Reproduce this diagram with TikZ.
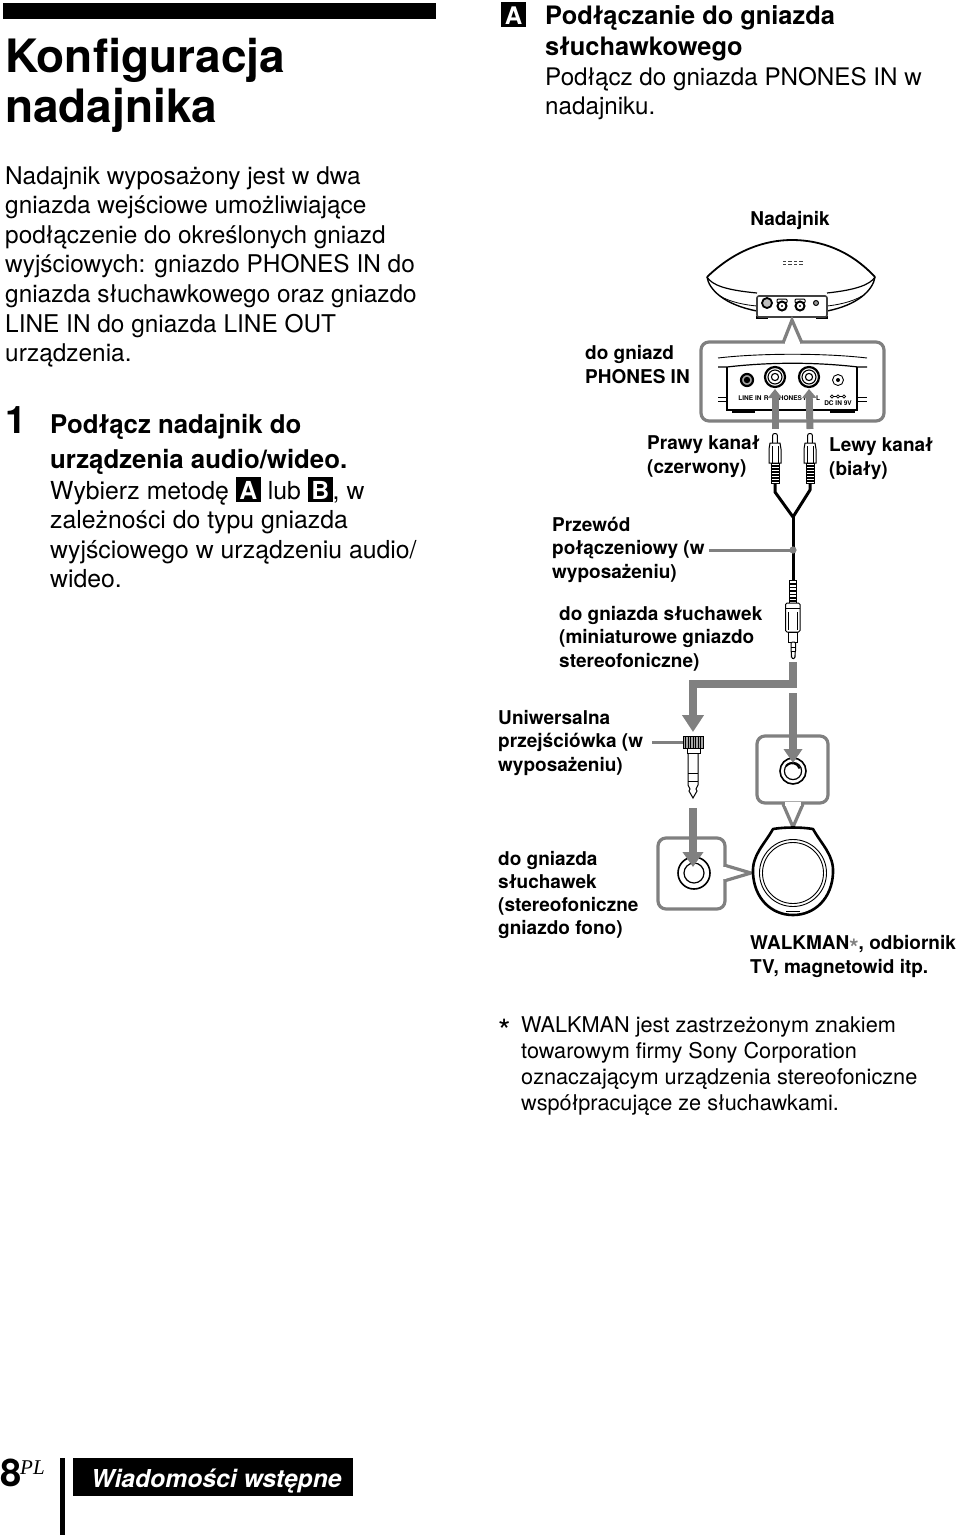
\documentclass[tikz,border=0pt]{standalone}
\usepackage{fontspec}
\setmainfont{TeX Gyre Heros}
\newfontfamily\plfont{Liberation Serif}
\usetikzlibrary{arrows.meta}
\definecolor{cg}{gray}{0.5}
\newcommand{\badge}[1]{{\setlength{\fboxsep}{0pt}\colorbox{black}{\makebox[25pt]{\rule[-3pt]{0pt}{25pt}\textcolor{white}{\bfseries #1}}}}}
\newcommand{\bigstar}{\smash{\raisebox{-6.5pt}{\fontsize{24}{24}\selectfont *}}}
\tikzset{
 x=1pt,y=-1pt,
 body/.style={anchor=base west,inner sep=0pt,align=left,font=\fontsize{24.4}{29.6}\selectfont},
 bodyb/.style={anchor=base west,inner sep=0pt,align=left,font=\fontsize{25.8}{35}\selectfont\bfseries},
 lab/.style={anchor=base west,inner sep=0pt,align=left,font=\fontsize{19}{23.1}\selectfont\bfseries},
 note/.style={anchor=base west,inner sep=0pt,align=left,font=\fontsize{21.7}{26}\selectfont},
 tiny/.style={inner sep=0pt,font=\fontsize{6.5}{7}\selectfont\bfseries},
 callout/.style={draw=cg,line width=3.2pt,rounded corners=8pt,fill=white,line join=round},
 pointer/.style={draw=cg,line width=3.2pt,line join=miter},
 grayarrow/.style={draw=cg,line width=8pt,-{Triangle[length=17pt,width=21pt]}},
 smallarrow/.style={draw=cg,line width=7pt,-{Triangle[length=9pt,width=14pt]}},
 leader/.style={draw=cg,line width=3pt},
 part/.style={draw=black,line width=1pt,fill=white},
 cable/.style={draw=black,line width=3pt,line join=round},
 thin/.style={draw=black,line width=.9pt},
}
\begin{document}
\begin{tikzpicture}
\useasboundingbox (0,0) rectangle (960,1535);
\fill[black] (3,3) rectangle (436,19);
% text left
\node[anchor=base west,inner sep=0pt,align=left,font=\fontsize{46}{50}\selectfont\bfseries] (title) at (5,122) {Konfiguracja\\nadajnika};
\node[body] (intro) at (5,361.6) {Nadajnik wyposażony jest w dwa\\gniazda wejściowe umożliwiające\\podłączenie do określonych gniazd\\wyjściowych: gniazdo PHONES IN do\\gniazda słuchawkowego oraz gniazdo\\LINE IN do gniazda LINE OUT\\urządzenia.};
\node[anchor=base west,inner sep=0pt,font=\fontsize{38}{40}\selectfont\bfseries] (one) at (5,433) {1};
\node[bodyb] (step) at (50,468) {Podłącz nadajnik do\\urządzenia audio/wideo.};
\node[body,font=\fontsize{24.8}{29.6}\selectfont] (stept) at (50,587.8) {Wybierz metodę \badge{A} lub \badge{B}, w\\zależności do typu gniazda\\wyjściowego w urządzeniu audio/\\wideo.};
% section A
\node[anchor=base west,inner sep=0pt,font=\fontsize{24.2}{30}\selectfont] (badgeA) at (501,24) {\badge{A}};
\node[anchor=base west,inner sep=0pt,align=left,font=\fontsize{25.4}{31}\selectfont\bfseries] (secA) at (545,55) {Podłączanie do gniazda\\słuchawkowego};
\node[body,font=\fontsize{24.2}{29.6}\selectfont] (secAt) at (545,114.6) {Podłącz do gniazda PNONES IN w\\nadajniku.};
% labels
\node[lab,anchor=base] (nad) at (790,225) {Nadajnik};
\node[lab] (phones) at (585,383) {do gniazd\\PHONES IN};
\node[lab] (prawy) at (647,473) {Prawy kanał\\(czerwony)};
\node[lab] (lewy) at (829,475) {Lewy kanał\\(biały)};
\node[lab] (przewod) at (552,578) {Przewód\\połączeniowy (w\\wyposażeniu)};
\node[lab] (dosl) at (559,667) {do gniazda słuchawek\\(miniaturowe gniazdo\\stereofoniczne)};
\node[lab] (uni) at (498,771) {Uniwersalna\\przejściówka (w\\wyposażeniu)};
\node[lab] (dofono) at (498,934.3) {do gniazda\\słuchawek\\(stereofoniczne\\gniazdo fono)};
\node[lab] (walk) at (750,973) {WALKMAN{\color{cg}\bigstar}, odbiornik\\TV, magnetowid itp.};
\node[note,anchor=base west,font=\fontsize{32}{32}\selectfont] (star) at (498,1042) {*};
\node[note] (foot) at (521,1110) {WALKMAN jest zastrzeżonym znakiem\\towarowym firmy Sony Corporation\\oznaczającym urządzenia stereofoniczne\\współpracujące ze słuchawkami.};
% footer
\node[anchor=base west,inner sep=0pt,font=\fontsize{38}{40}\selectfont\bfseries] (page) at (0,1486) {8};
\node[anchor=base west,inner sep=0pt,font=\fontsize{21}{22}\selectfont\plfont\itshape] (pl) at (20,1474) {PL};
\fill[black] (60,1458) rectangle (65,1535);
\fill[black] (73,1458) rectangle (353,1496);
\node[anchor=base west,text=white,inner sep=0pt,font=\fontsize{24.7}{28}\selectfont\bfseries\itshape] (sec) at (91,1487) {Wiadomości wstępne};
% transmitter
\coordinate (txtop) at (792,240);
\draw[line width=1.8pt,line join=round] (707,277) .. controls (735,250) and (765,240) .. (txtop) .. controls (820,240) and (850,250) .. (875,277);
\draw[line width=1.2pt] (707,277) .. controls (712,285) and (725,290) .. (757,293);
\draw[line width=1.2pt] (875,277) .. controls (870,285) and (855,290) .. (827,293);
\draw[line width=1.4pt] (707,277) .. controls (709,290) and (725,305) .. (757,311);
\draw[line width=1.4pt] (875,277) .. controls (873,290) and (858,305) .. (827,311);
\draw[line width=.8pt] (720,296) .. controls (730,302) and (745,305) .. (757,306);
\draw[line width=.8pt] (862,296) .. controls (852,302) and (837,305) .. (827,306);
\fill (756,316) rectangle (768,319);
\fill (816,316) rectangle (828,319);
\foreach \a in {782.5,788,793.5,799}{\foreach \b in {260.5,263.5}{\fill[black!75] (\a,\b) rectangle +(3.5,1.8);}}
\draw[line width=1.6pt,draw=black!75,fill=white,rounded corners=2pt] (757,296) rectangle (827,317);
\node[circle,draw=black,line width=1.8pt,fill=black!25,minimum size=10pt,inner sep=0pt] (p1) at (767,303) {};
\foreach \n/\x in {p2/782,p3/800}{
 \draw[draw=black,line width=1pt,fill=white,rounded corners=1pt] (\x-5,299) rectangle (\x+5,303);
 \node[circle,draw=black,line width=2pt,fill=white,minimum size=9pt,inner sep=0pt] (\n) at (\x,306) {};
 \fill[black] (\x,306) circle (1.2pt);
}
\node[circle,draw=black,line width=1pt,fill=black!40,minimum size=5pt,inner sep=0pt] (p4) at (816,303) {};
% callout 1
\draw[callout] (701,342) rectangle (884,421);
\coordinate (pa1) at (783,343);
\coordinate (pa2) at (792,320);
\coordinate (pa3) at (802,343);
\fill[white] (pa1)--(pa2)--(pa3)--cycle;
\draw[pointer] (pa1)--(pa2)--(pa3);
\fill[white] (785,341.5) rectangle (800,344.5);
% housing in callout
\draw[line width=.9pt] (718,358) .. controls (760,353) and (825,353) .. (867,358);
\draw[line width=1.2pt] (718,367) -- (727,367) .. controls (770,362) and (815,362) .. (858,367) -- (867,367);
\draw[line width=1.2pt] (727,367) -- (727,410) -- (857,410) -- (857,367);
\draw[line width=.9pt] (718,397) -- (727,397) (718,401) -- (727,401) (857,397) -- (867,397) (857,401) -- (867,401);
\fill (732,410) rectangle (755,412.5);
\fill (830,410) rectangle (855,412.5);
\node[circle,draw=black,line width=2.2pt,fill=black!35,minimum size=12pt,inner sep=0pt] (jline) at (747,380) {};
\fill[black] (jline) circle (3.2pt);
\foreach \n/\x in {jr/775,jl/809}{
 \node[circle,draw=black,line width=2.2pt,fill=white,minimum size=20pt,inner sep=0pt] (\n) at (\x,377) {};
 \draw[line width=1.1pt] (\x,377) circle (7pt);
 \draw[line width=1.1pt] (\x,377) circle (3.6pt);
}
\node[circle,thin,minimum size=11pt,inner sep=0pt] (jdc) at (838,380) {};
\fill[black] (jdc) circle (2pt);
\node[tiny] (tline) at (750,398) {LINE IN};
\node[tiny] (tphones) at (792,398) {R\hspace{6pt}PHONES IN\hspace{6pt}L};
\node[tiny] (tdc) at (838,403) {DC IN 9V};
\foreach \x in {832,838,844}{\draw[line width=.6pt] (\x,396.5) circle (1.6pt);}
\draw[line width=.5pt] (833.6,396.5)--(836.4,396.5) (839.6,396.5)--(842.4,396.5);
% RCA plugs
\foreach \n/\x in {rr/775,rl/810}{
 \coordinate (\n) at (\x,483);
 \coordinate (\n t) at (\x,429);
 \coordinate (\n b) at (\x,390);
 \draw[part,rounded corners=2pt] (\x-2.4,443) -- (\x-2.4,433.5) -- (\x+2.4,433.5) -- (\x+2.4,443);
 \draw[part] (\x-5,443) -- (\x+5,443) -- (\x+6,449) -- (\x+6,463) -- (\x-6,463) -- (\x-6,449) -- cycle;
 \draw[line width=.7pt] (\x-3,446)--(\x-3,463) (\x+3,446)--(\x+3,463);
 \draw[part] (\x-4,463) rectangle (\x+4,483);
 \foreach \y in {466,469,472,475,478,481}{\draw[line width=1.1pt] (\x-4,\y)--(\x+4,\y);}
}
\draw[smallarrow] (rrt) -- (775,389);
\draw[smallarrow] (rlt) -- (809,389);
% cable
\coordinate (ybr) at (793,517);
\coordinate (mp) at (793,580);
\draw[cable] (rr) -- (775,492) -- (ybr);
\draw[cable] (rl) -- (810,490) -- (ybr);
\draw[cable] (ybr) -- (mp);
\coordinate (leadA) at (709,550);
\coordinate (dot) at (793,550);
\draw[leader] (leadA) -- (dot);
\fill[cg] (dot) circle (3.6pt);
% mini plug
\draw[part] (789,580) rectangle (796.5,603);
\foreach \y in {584,587.5,591,594.5,598,601}{\draw[line width=1.1pt] (789,\y)--(796.5,\y);}
\draw[part,rounded corners=1.5pt] (785.5,603) rectangle (800,632);
\draw[line width=.7pt] (788.5,612)--(788.5,630) (797,612)--(797,630) (785.5,608)--(800,608);
\draw[part] (788.5,632) rectangle (797,642);
\draw[part,rounded corners=1.2pt] (791,642) -- (791,652) -- (791.8,654) -- (791,656) -- (793.2,659.5) -- (795.5,656) -- (794.7,654) -- (795.5,652) -- (795.5,642) -- cycle;
\draw[line width=.7pt] (791,647)--(795.5,647) (791,651)--(795.5,651);
% gray route
\coordinate (ga) at (793,662);
\coordinate (gb) at (793,693);
\coordinate (gc) at (793,763);
\coordinate (gd) at (693,732);
% adapter
\draw[part] (688,753) -- (698,753) -- (698,785) -- (696,789) -- (697,791) -- (693,798) -- (689,791) -- (690,789) -- (688,785) -- cycle;
\draw[line width=.7pt] (688,773)--(698,773) (688,781)--(698,781);
\draw[part] (687,748) rectangle (700,753);
\draw[part,fill=black!35] (683,736) rectangle (703,748);
\foreach \x in {685.5,688,690.5,693,695.5,698,700.5}{\draw[line width=.8pt] (\x,736)--(\x,748);}
\coordinate (leadB) at (652,742);
\coordinate (adp) at (683,742);
\draw[leader] (leadB) -- (adp);
\draw[grayarrow,rounded corners=0pt] (ga) -- (793,684) -- (693,684) -- (gd);
% callout 2
\draw[callout] (757,736) rectangle (828,803);
\coordinate (cb1) at (783,804);
\coordinate (cb2) at (793,827);
\coordinate (cb3) at (803,804);
\fill[white] (cb1)--(cb2)--(cb3)--cycle;
\draw[pointer] (cb1)--(cb2)--(cb3);
\fill[white] (785,802.4) rectangle (801,805.6);
\node[circle,draw=black,line width=1.6pt,minimum size=26pt,inner sep=0pt,fill=white] (j2) at (793,771) {};
\draw[line width=1.2pt] (793,771) circle (8.6pt);
\draw[line width=2pt] (786,766) arc[start angle=140,end angle=20,radius=8pt];
\draw[grayarrow,-{Triangle[length=14pt,width=18pt]}] (gb) -- (gc);
% callout 3
\draw[callout] (658,838) rectangle (725,909);
\coordinate (cc1) at (724,865);
\coordinate (cc2) at (751,873);
\coordinate (cc3) at (724,881);
\fill[white] (cc1)--(cc2)--(cc3)--cycle;
\draw[pointer] (cc1)--(cc2)--(cc3);
\fill[white] (722.4,867) rectangle (725.6,879);
\node[circle,draw=black,line width=1.6pt,minimum size=32pt,inner sep=0pt,fill=white] (j3) at (694,873) {};
\draw[line width=1.2pt] (694,873) circle (10pt);
\coordinate (ge) at (693,808);
\coordinate (gf) at (693,867);
\draw[grayarrow,-{Triangle[length=15pt,width=20pt]}] (ge) -- (gf);
% walkman
\draw[line width=2.6pt,line join=round,fill=white] (773,829) .. controls (785,827) and (801,827) .. (813,829)
  .. controls (822,845) and (834,855) .. (833,873)
  .. controls (832,898) and (815,915) .. (793,915)
  .. controls (771,915) and (754,898) .. (753,873)
  .. controls (752,855) and (764,845) .. (773,829) -- cycle;
\draw[line width=.9pt] (793,873) circle (33.5pt);
\draw[line width=.9pt] (793,873) circle (30.5pt);
\draw[line width=.6pt] (786,911) -- (800,911);
\end{tikzpicture}
\end{document}
